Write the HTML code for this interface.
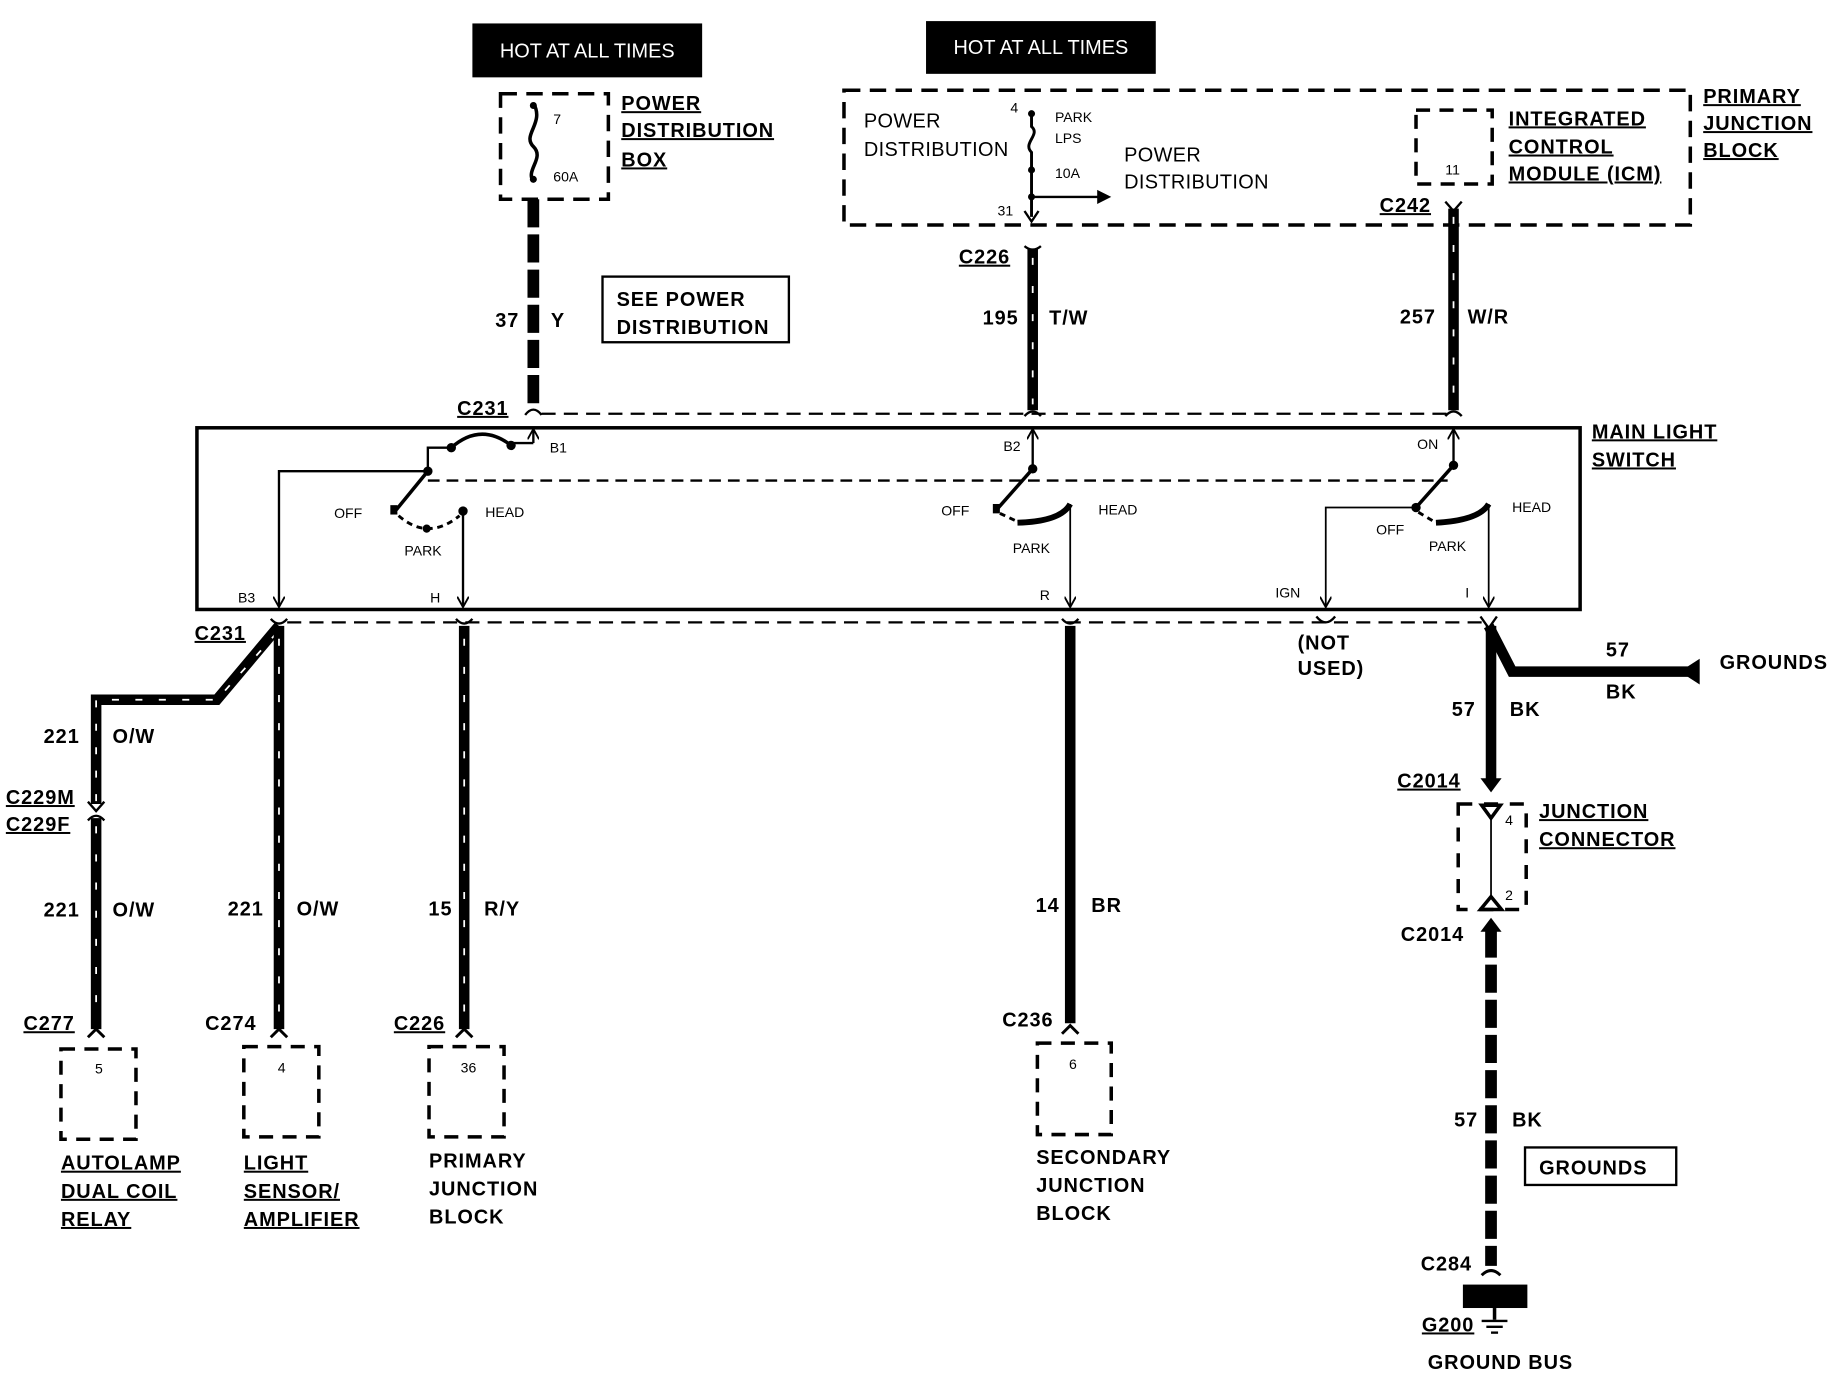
<!DOCTYPE html>
<html><head><meta charset="utf-8"><style>
html,body{margin:0;padding:0;background:#fff;}
svg{display:block}
text{font-family:"Liberation Sans",sans-serif;fill:#000}
.b{font-weight:bold;font-size:17px;letter-spacing:0.8px}
.u{text-decoration:underline}
.n{font-size:17px;letter-spacing:0.3px}
.s{font-size:12px}
</style></head><body>
<svg width="1838" height="1376" viewBox="0 0 1568 1174" preserveAspectRatio="none" xmlns="http://www.w3.org/2000/svg">
<defs>
<marker id="ah" markerWidth="10" markerHeight="10" refX="8" refY="5" orient="auto" markerUnits="userSpaceOnUse"><path d="M0,0 L9,5 L0,10" fill="none" stroke="#000" stroke-width="1.6"/></marker>
</defs>
<!-- HOT boxes -->
<rect x="403" y="20" width="196" height="46" fill="#000"/>
<text x="501" y="49" text-anchor="middle" font-size="17" style="fill:#fff">HOT AT ALL TIMES</text>
<rect x="790" y="18" width="196" height="45" fill="#000"/>
<text x="888" y="46" text-anchor="middle" font-size="17" style="fill:#fff">HOT AT ALL TIMES</text>

<!-- Power distribution box -->
<rect x="427" y="80" width="92" height="90" fill="none" stroke="#000" stroke-width="3" stroke-dasharray="14,8"/>
<path d="M455,88 C465,105 445,115 455,125 C465,135 448,145 455,155" fill="none" stroke="#000" stroke-width="3"/>
<circle cx="455" cy="90" r="3"/><circle cx="455" cy="153" r="3"/>
<text x="472" y="106" class="s">7</text><text x="472" y="155" class="s">60A</text>
<text x="530" y="94" class="b u">POWER</text>
<text x="530" y="117" class="b u">DISTRIBUTION</text>
<text x="530" y="142" class="b u">BOX</text>
<line x1="455" y1="170" x2="455" y2="345" stroke="#000" stroke-width="10" stroke-dasharray="24,6"/>
<text x="443" y="279" class="b" text-anchor="end">37</text><text x="470" y="279" class="b">Y</text>
<rect x="514" y="236" width="159" height="56" fill="none" stroke="#000" stroke-width="2"/>
<text x="526" y="261" class="b">SEE POWER</text><text x="526" y="285" class="b">DISTRIBUTION</text>
<text x="390" y="354" class="b u">C231</text>
<path d="M448,354 Q455,345 462,354" fill="none" stroke="#000" stroke-width="2"/>

<!-- Primary junction block -->
<rect x="720" y="77" width="722" height="115" fill="none" stroke="#000" stroke-width="3" stroke-dasharray="14,8"/>
<text x="737" y="109" class="n">POWER</text><text x="737" y="133" class="n">DISTRIBUTION</text>
<path d="M880,95 L880,108 C888,115 872,122 880,130 L880,185" fill="none" stroke="#000" stroke-width="2.5"/>
<circle cx="880" cy="97" r="3"/><circle cx="880" cy="145" r="3"/><circle cx="880" cy="168" r="3"/>
<path d="M874,180 L880,189 L886,180" fill="none" stroke="#000" stroke-width="2"/>
<line x1="880" y1="168" x2="940" y2="168" stroke="#000" stroke-width="2"/>
<path d="M936,162 L948,168 L936,174 Z"/>
<text x="862" y="96" class="s">4</text><text x="900" y="104" class="s">PARK</text><text x="900" y="122" class="s">LPS</text>
<text x="900" y="152" class="s">10A</text><text x="851" y="184" class="s">31</text>
<text x="959" y="138" class="n">POWER</text><text x="959" y="161" class="n">DISTRIBUTION</text>
<rect x="1208" y="94" width="65" height="63" fill="none" stroke="#000" stroke-width="3" stroke-dasharray="12,8"/>
<text x="1233" y="149" class="s">11</text>
<text x="1287" y="107" class="b u">INTEGRATED</text><text x="1287" y="131" class="b u">CONTROL</text><text x="1287" y="154" class="b u">MODULE (ICM)</text>
<text x="1453" y="88" class="b u">PRIMARY</text><text x="1453" y="111" class="b u">JUNCTION</text><text x="1453" y="134" class="b u">BLOCK</text>

<!-- 195 and 257 wires -->
<text x="818" y="225" class="b u">C226</text>
<path d="M874,210 Q881,216 888,210" fill="none" stroke="#000" stroke-width="2"/>
<line x1="881" y1="212" x2="881" y2="350" stroke="#000" stroke-width="9"/>
<line x1="881" y1="220" x2="881" y2="345" stroke="#fff" stroke-width="1.5" stroke-dasharray="6,18"/>
<text x="869" y="277" class="b" text-anchor="end">195</text><text x="895" y="277" class="b">T/W</text>
<text x="1177" y="181" class="b u">C242</text>
<path d="M1233,172 L1240,180 L1247,172" fill="none" stroke="#000" stroke-width="2"/>
<line x1="1240" y1="178" x2="1240" y2="350" stroke="#000" stroke-width="9"/>
<line x1="1240" y1="185" x2="1240" y2="345" stroke="#fff" stroke-width="1.5" stroke-dasharray="6,18"/>
<text x="1225" y="276" class="b" text-anchor="end">257</text><text x="1252" y="276" class="b">W/R</text>
<path d="M874,355 Q881,347 888,355 M1233,355 Q1240,347 1247,355" fill="none" stroke="#000" stroke-width="2"/>
<line x1="462" y1="353" x2="1235" y2="353" stroke="#000" stroke-width="2" stroke-dasharray="12,7"/>

<!-- Main light switch -->
<rect x="168" y="365" width="1180" height="155" fill="none" stroke="#000" stroke-width="3"/>
<text x="1358" y="374" class="b u">MAIN LIGHT</text><text x="1358" y="398" class="b u">SWITCH</text>
<line x1="365" y1="410" x2="1235" y2="410" stroke="#000" stroke-width="2" stroke-dasharray="10,6"/>
<!-- switch 1 -->
<line x1="455" y1="378" x2="455" y2="367" stroke="#000" stroke-width="2" marker-end="url(#ah)"/>
<polyline points="455,378 436,378" fill="none" stroke="#000" stroke-width="2"/>
<path d="M385,382 Q410,360 436,380" fill="none" stroke="#000" stroke-width="3"/>
<circle cx="436" cy="380" r="4"/><circle cx="385" cy="382" r="4"/>
<polyline points="385,382 365,382 365,400" fill="none" stroke="#000" stroke-width="2"/>
<circle cx="365" cy="402" r="4"/>
<line x1="365" y1="402" x2="338" y2="435" stroke="#000" stroke-width="3"/>
<rect x="333" y="431" width="6" height="8"/>
<polyline points="365,402 238,402 238,517" fill="none" stroke="#000" stroke-width="2" marker-end="url(#ah)"/>
<path d="M340,440 Q365,462 392,440" fill="none" stroke="#000" stroke-width="2.5" stroke-dasharray="5,4"/>
<circle cx="364" cy="451" r="3.5"/>
<circle cx="395" cy="436" r="4"/>
<line x1="395" y1="436" x2="395" y2="517" stroke="#000" stroke-width="2" marker-end="url(#ah)"/>
<text x="285" y="442" class="s">OFF</text><text x="414" y="441" class="s">HEAD</text><text x="345" y="474" class="s">PARK</text>
<text x="203" y="514" class="s">B3</text><text x="367" y="514" class="s">H</text><text x="469" y="386" class="s">B1</text>
<!-- switch 2 -->
<line x1="881" y1="400" x2="881" y2="367" stroke="#000" stroke-width="2" marker-end="url(#ah)"/>
<circle cx="881" cy="400" r="4"/>
<line x1="881" y1="400" x2="851" y2="434" stroke="#000" stroke-width="3"/>
<rect x="847" y="430" width="6" height="8"/>
<path d="M853,438 L870,446" stroke="#000" stroke-width="2.5" stroke-dasharray="5,4"/>
<path d="M868,446 Q905,445 913,430" fill="none" stroke="#000" stroke-width="5"/>
<line x1="913" y1="430" x2="913" y2="517" stroke="#000" stroke-width="1.5" marker-end="url(#ah)"/>
<text x="803" y="440" class="s">OFF</text><text x="937" y="439" class="s">HEAD</text><text x="864" y="472" class="s">PARK</text>
<text x="856" y="385" class="s">B2</text><text x="887" y="512" class="s">R</text>
<!-- switch 3 -->
<line x1="1240" y1="397" x2="1240" y2="367" stroke="#000" stroke-width="2" marker-end="url(#ah)"/>
<circle cx="1240" cy="397" r="4"/>
<line x1="1240" y1="397" x2="1208" y2="433" stroke="#000" stroke-width="3"/>
<circle cx="1208" cy="433" r="4"/>
<polyline points="1208,433 1131,433 1131,517" fill="none" stroke="#000" stroke-width="1.5" marker-end="url(#ah)"/>
<path d="M1210,437 L1225,446" stroke="#000" stroke-width="2.5" stroke-dasharray="5,4"/>
<path d="M1225,446 Q1262,444 1270,430" fill="none" stroke="#000" stroke-width="5"/>
<line x1="1270" y1="430" x2="1270" y2="517" stroke="#000" stroke-width="1.5" marker-end="url(#ah)"/>
<text x="1174" y="456" class="s">OFF</text><text x="1290" y="437" class="s">HEAD</text><text x="1219" y="470" class="s">PARK</text>
<text x="1209" y="383" class="s">ON</text><text x="1088" y="510" class="s">IGN</text><text x="1250" y="510" class="s">I</text>

<!-- bottom bus -->
<line x1="245" y1="531" x2="1265" y2="531" stroke="#000" stroke-width="2" stroke-dasharray="12,7"/>
<text x="166" y="546" class="b u">C231</text>
<path d="M231,528 Q238,536 245,528 M389,528 Q396,536 403,528 M906,528 Q913,536 920,528 M1123,526 Q1131,536 1139,526 M1263,526 L1270,536 L1277,526" fill="none" stroke="#000" stroke-width="2"/>
<text x="1107" y="554" class="b">(NOT</text><text x="1107" y="576" class="b">USED)</text>

<!-- 221 diagonal -->
<polyline points="238,534 185,597 82,597 82,686" fill="none" stroke="#000" stroke-width="9"/>
<polyline points="236,540 185,597 82,597 82,686" fill="none" stroke="#fff" stroke-width="1.5" stroke-dasharray="6,14"/>
<text x="68" y="634" class="b" text-anchor="end">221</text><text x="96" y="634" class="b">O/W</text>
<path d="M75,684 L82,692 L89,684 M75,700 Q82,692 89,700" fill="none" stroke="#000" stroke-width="2"/>
<text x="5" y="686" class="b u">C229M</text><text x="5" y="709" class="b u">C229F</text>
<line x1="82" y1="698" x2="82" y2="878" stroke="#000" stroke-width="9"/>
<line x1="82" y1="705" x2="82" y2="870" stroke="#fff" stroke-width="1.5" stroke-dasharray="6,18"/>
<text x="68" y="782" class="b" text-anchor="end">221</text><text x="96" y="782" class="b">O/W</text>
<text x="20" y="879" class="b u">C277</text>
<!-- 221 straight -->
<line x1="238" y1="534" x2="238" y2="878" stroke="#000" stroke-width="9"/>
<line x1="238" y1="545" x2="238" y2="870" stroke="#fff" stroke-width="1.5" stroke-dasharray="6,18"/>
<text x="225" y="781" class="b" text-anchor="end">221</text><text x="253" y="781" class="b">O/W</text>
<text x="175" y="879" class="b">C274</text>
<!-- 15 -->
<line x1="396" y1="534" x2="396" y2="878" stroke="#000" stroke-width="9"/>
<line x1="396" y1="545" x2="396" y2="870" stroke="#fff" stroke-width="1.5" stroke-dasharray="6,18"/>
<text x="386" y="781" class="b" text-anchor="end">15</text><text x="413" y="781" class="b">R/Y</text>
<text x="336" y="879" class="b u">C226</text>
<!-- 14 -->
<line x1="913" y1="534" x2="913" y2="873" stroke="#000" stroke-width="9"/>
<text x="904" y="778" class="b" text-anchor="end">14</text><text x="931" y="778" class="b">BR</text>
<text x="855" y="876" class="b">C236</text>
<path d="M75,885 L82,878 L89,885 M231,885 L238,878 L245,885 M389,885 L396,878 L403,885 M906,882 L913,875 L920,882" fill="none" stroke="#000" stroke-width="2.5"/>

<!-- bottom connectors -->
<rect x="52" y="895" width="64" height="77" fill="none" stroke="#000" stroke-width="3" stroke-dasharray="12,8"/>
<text x="81" y="916" class="s">5</text>
<text x="52" y="998" class="b u">AUTOLAMP</text><text x="52" y="1022" class="b u">DUAL COIL</text><text x="52" y="1046" class="b u">RELAY</text>
<rect x="208" y="893" width="64" height="77" fill="none" stroke="#000" stroke-width="3" stroke-dasharray="12,8"/>
<text x="237" y="915" class="s">4</text>
<text x="208" y="998" class="b u">LIGHT</text><text x="208" y="1022" class="b u">SENSOR/</text><text x="208" y="1046" class="b u">AMPLIFIER</text>
<rect x="366" y="893" width="64" height="77" fill="none" stroke="#000" stroke-width="3" stroke-dasharray="12,8"/>
<text x="393" y="915" class="s">36</text>
<text x="366" y="996" class="b">PRIMARY</text><text x="366" y="1020" class="b">JUNCTION</text><text x="366" y="1044" class="b">BLOCK</text>
<rect x="885" y="890" width="63" height="78" fill="none" stroke="#000" stroke-width="3" stroke-dasharray="12,8"/>
<text x="912" y="912" class="s">6</text>
<text x="884" y="993" class="b">SECONDARY</text><text x="884" y="1017" class="b">JUNCTION</text><text x="884" y="1041" class="b">BLOCK</text>

<!-- 57 BK -->
<polyline points="1270,534 1290,573 1440,573" fill="none" stroke="#000" stroke-width="9"/>
<path d="M1433,573 L1450,562 L1450,584 Z"/>
<text x="1370" y="560" class="b">57</text><text x="1370" y="596" class="b">BK</text>
<text x="1467" y="571" class="b">GROUNDS</text>
<line x1="1272" y1="534" x2="1272" y2="665" stroke="#000" stroke-width="9"/>
<path d="M1263,664 L1272,676 L1281,664 Z"/>
<text x="1259" y="611" class="b" text-anchor="end">57</text><text x="1288" y="611" class="b">BK</text>
<text x="1192" y="672" class="b u">C2014</text>
<rect x="1244" y="686" width="58" height="90" fill="none" stroke="#000" stroke-width="3" stroke-dasharray="12,10"/>
<path d="M1264,687 L1280,687 L1272,698 Z" fill="none" stroke="#000" stroke-width="3"/>
<line x1="1272" y1="698" x2="1272" y2="765" stroke="#000" stroke-width="1.5"/>
<path d="M1263,776 L1281,776 L1272,765 Z" fill="none" stroke="#000" stroke-width="3"/>
<text x="1284" y="704" class="s">4</text><text x="1284" y="768" class="s">2</text>
<text x="1313" y="698" class="b u">JUNCTION</text><text x="1313" y="722" class="b u">CONNECTOR</text>
<text x="1195" y="803" class="b">C2014</text>
<path d="M1263,795 L1272,783 L1281,795 Z"/>
<line x1="1272" y1="793" x2="1272" y2="1080" stroke="#000" stroke-width="10" stroke-dasharray="24,6"/>
<text x="1261" y="961" class="b" text-anchor="end">57</text><text x="1290" y="961" class="b">BK</text>
<rect x="1301" y="979" width="129" height="32" fill="none" stroke="#000" stroke-width="2"/>
<text x="1313" y="1002" class="b">GROUNDS</text>
<text x="1212" y="1084" class="b">C284</text>
<path d="M1264,1088 Q1272,1080 1280,1088" fill="none" stroke="#000" stroke-width="2.5"/>
<rect x="1248" y="1096" width="55" height="20"/>
<line x1="1275" y1="1116" x2="1275" y2="1126" stroke="#000" stroke-width="3"/>
<line x1="1264" y1="1127" x2="1286" y2="1127" stroke="#000" stroke-width="2"/>
<line x1="1268" y1="1132" x2="1282" y2="1132" stroke="#000" stroke-width="2"/>
<line x1="1272" y1="1137" x2="1278" y2="1137" stroke="#000" stroke-width="2"/>
<text x="1213" y="1136" class="b u">G200</text>
<text x="1218" y="1168" class="b">GROUND BUS</text>
</svg>
</body></html>
